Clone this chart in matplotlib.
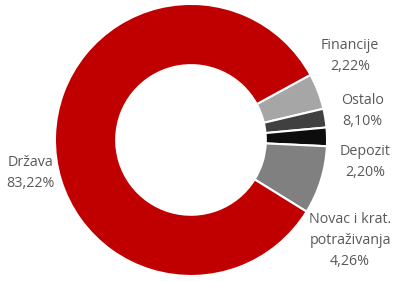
import matplotlib
matplotlib.use('Agg')
from matplotlib import pyplot as plt

# slice sizes as drawn (clockwise from upper right)
kategorije = ['Financije', 'Ostalo', 'Depozit', 'Novac i krat.\npotraživanja', 'Država']
velicine = [4.26, 2.22, 2.20, 8.10, 83.22]
# percentages as printed on the labels
postoci = ['2,22%', '8,10%', '2,20%', '4,26%', '83,22%']
boje = ['#a6a6a6', '#404040', '#0d0d0d', '#808080', '#c00000']

plt.rcParams['font.family'] = ['Open Sans', 'DejaVu Sans']

fig = plt.figure(figsize=(3.93, 2.81), dpi=100)
ax = fig.add_axes([0, 0, 1, 1])

ax.pie(velicine, colors=boje, startangle=28.6, counterclock=False,
       wedgeprops=dict(width=0.45, edgecolor='white', linewidth=1.5))

# label positions (pie radius = 1)
pozicije = [(1.17, 0.62), (1.26, 0.21), (1.28, -0.16), (1.17, -0.74), (-1.18, -0.24)]
for naziv, pct, (x, y) in zip(kategorije, postoci, pozicije):
    ax.text(x, y, naziv + '\n' + pct, ha='center', va='center',
            fontsize=10.3, color='#595959', linespacing=1.55)

ax.set_aspect('auto')
ax.set_xlim(-1.404, 1.485)
ax.set_ylim(-1.037, 1.029)
ax.axis('off')

plt.savefig('out.png', dpi=100)
